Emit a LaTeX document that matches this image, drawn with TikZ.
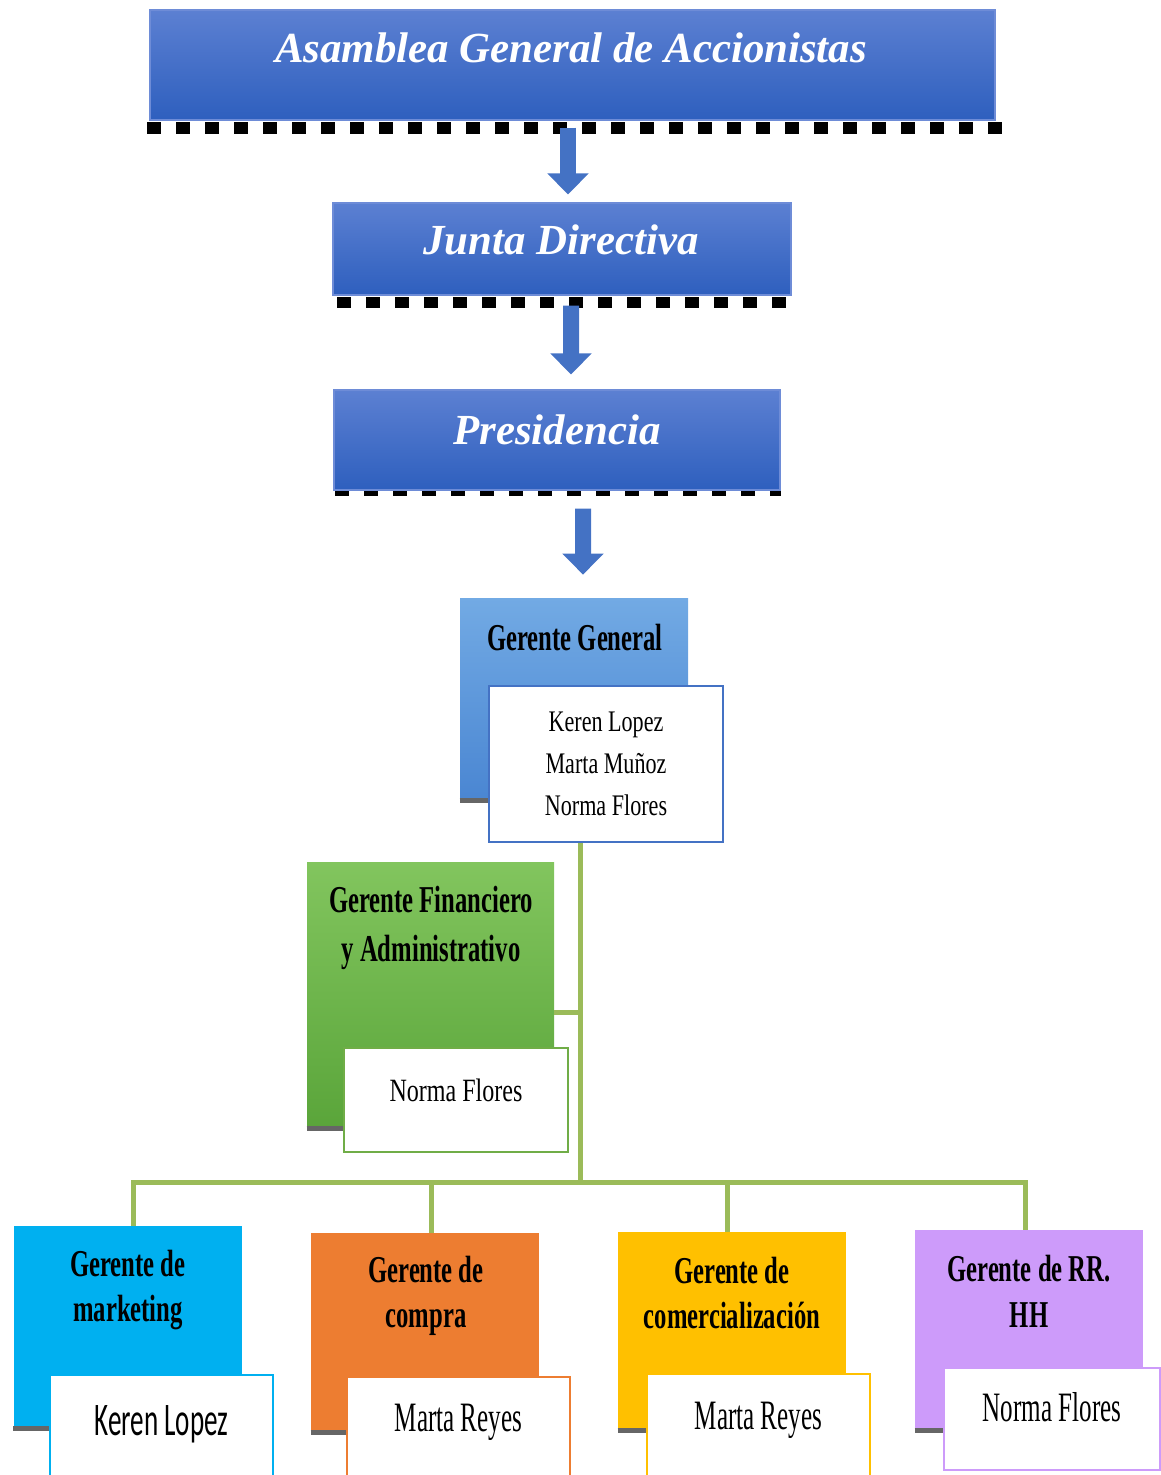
\documentclass[tikz,border=0pt]{standalone}
\usepackage{fontspec}
\setmainfont{Liberation Serif}
\newfontfamily\labelfont[FakeStretch=0.65]{Liberation Serif}
\newfontfamily\namefont[FakeStretch=0.74]{Liberation Serif}
\newfontfamily\narrowfont[FakeStretch=0.6]{Liberation Serif}
\newfontfamily\narrowsans[FakeStretch=0.58]{Carlito}
\usepackage{xcolor}
\usetikzlibrary{arrows.meta,positioning,calc}
\definecolor{boardtop}{RGB}{92,128,210}
\definecolor{boardbottom}{RGB}{46,95,190}
\definecolor{boardedge}{RGB}{110,140,215}
\definecolor{boardblue}{RGB}{68,114,196}
\definecolor{ggtop}{RGB}{114,170,228}
\definecolor{ggbottom}{RGB}{74,134,210}
\definecolor{fintop}{RGB}{130,197,94}
\definecolor{finbottom}{RGB}{90,165,58}
\definecolor{finedge}{RGB}{112,173,71}
\definecolor{linkgreen}{RGB}{155,187,89}
\definecolor{mktcyan}{RGB}{0,176,240}
\definecolor{comporange}{RGB}{237,125,49}
\definecolor{comeryellow}{RGB}{255,192,0}
\definecolor{rrhhviolet}{RGB}{205,155,250}

\begin{document}
\begin{tikzpicture}[
    board/.style={draw=boardedge, line width=0.6pt, top color=boardtop, bottom color=boardbottom, inner sep=0pt},
    boardtext/.style={text=white, font=\bfseries\itshape\fontsize{24.4}{28}\selectfont},
    serrate/.style={black, line width=#1, dash pattern=on 0.28cm off 0.3cm},
    downarrow/.style={draw=boardblue, line width=0.32cm, -{Triangle[width=0.8cm,length=0.42cm]}},
    mgr/.style={inner sep=0pt, minimum width=4.56cm},
    mgrtext/.style={align=center, font=\labelfont\bfseries\fontsize{21.6}{26}\selectfont},
    namebox/.style={fill=white, line width=1.2pt, inner sep=0pt, align=center, minimum width=4.46cm},
    names/.style={font=\narrowfont\fontsize{23.8}{28}\selectfont},
    link/.style={draw=linkgreen, line width=0.1cm},
    ledge/.style={draw=black!60, line width=0.1cm}
]
\useasboundingbox (0,0) rectangle (23.22,-29.5);

% top of the organisation
\node[board, minimum width=16.9cm, minimum height=2.2cm] (asam) at (11.45,-1.3) {};
\node[boardtext] (asamtxt) at (11.42,-0.96) {Asamblea General de Accionistas};
\draw[serrate=0.24cm] ($(asam.south west)+(-0.04,-0.14)$) -- ($(asam.south east)+(0.2,-0.14)$);

\node[board, minimum width=9.16cm, minimum height=1.84cm] (junta) at (11.24,-4.98) {};
\node[boardtext] (juntatxt) at (11.22,-4.8) {Junta Directiva};
\draw[serrate=0.22cm] ($(junta.south west)+(0.1,-0.14)$) -- ($(junta.south east)+(-0.02,-0.14)$);

\node[board, minimum width=8.92cm, minimum height=2cm] (pres) at (11.14,-8.8) {};
\node[boardtext] (prestxt) at (11.14,-8.6) {Presidencia};
\draw[serrate=0.1cm] ($(pres.south west)+(0.04,-0.06)$) -- ($(pres.south east)+(0,-0.06)$);

\node[mgr, top color=ggtop, bottom color=ggbottom, minimum height=4.04cm] (gg) at (11.48,-13.98) {};
\node[mgrtext] (ggtxt) at (11.5,-12.76) {Gerente General};

\draw[downarrow] ($(asam.south)+(-0.09,-0.14)$) -- ($(junta.north)+(0.12,0.16)$);
\draw[downarrow] ($(junta.south)+(0.18,-0.2)$) -- ($(pres.north)+(0.28,0.3)$);
\draw[downarrow] ($(pres.south)+(0.52,-0.36)$) -- ($(gg.north)+(0.18,0.46)$);

% green tree
\coordinate (hub) at (11.6,-23.64);

\node[mgr, minimum width=4.94cm, top color=fintop, bottom color=finbottom, minimum height=5.32cm] (fin) at (8.61,-19.9) {};
\node[mgrtext, font=\labelfont\bfseries\fontsize{21.6}{28.3}\selectfont] (fintxt) at (8.62,-18.56) {Gerente Financiero\\y Administrativo};

\node[mgr, fill=mktcyan, minimum height=4.04cm] (mkt) at (2.55,-26.54) {};
\node[mgrtext] (mkttxt) at (2.56,-25.8) {Gerente de\\marketing};
\node[mgr, fill=comporange, minimum height=3.98cm] (comp) at (8.5,-26.65) {};
\node[mgrtext] (comptxt) at (8.52,-25.92) {Gerente de\\compra};
\node[mgr, fill=comeryellow, minimum height=3.96cm] (comer) at (14.64,-26.62) {};
\node[mgrtext] (comertxt) at (14.64,-25.86) {Gerente de\\comercialización};
\node[mgr, fill=rrhhviolet, minimum height=4cm] (rrhh) at (20.58,-26.6) {};
\node[mgrtext] (rrhhtxt) at (20.58,-25.82) {Gerente de RR.\\HH};

\coordinate (finlink) at ($(fin.east)+(0,-0.34)$);
\draw[link] (finlink) -- (finlink -| hub);
\draw[link] ($(mkt.north)+(0.11,0)$) -- ($(mkt.north |- hub)+(0.11,0)$) -- ($(rrhh.north |- hub)+(-0.08,0)$) -- ($(rrhh.north)+(-0.08,0)$);
\draw[link] ($(comp.north)+(0.12,0)$) -- ($(comp.north |- hub)+(0.12,0)$);
\draw[link] ($(comer.north)+(-0.1,0)$) -- ($(comer.north |- hub)+(-0.1,0)$);

% name cards
\node[namebox, draw=boardblue, minimum width=4.68cm, minimum height=3.12cm,
      font=\namefont\fontsize{17}{23.8}\selectfont] (ggn) at (12.12,-15.28) {Keren Lopez\\Marta Muñoz\\Norma Flores};
\node[namebox, draw=finedge, minimum width=4.48cm, minimum height=2.08cm, text depth=0.4cm,
      font=\namefont\fontsize{18.5}{20}\selectfont] (finn) at (9.12,-22) {Norma Flores};
\draw[link] (ggn.south -| hub) -- (hub);

\node[namebox, draw=mktcyan, minimum height=2.1cm, text depth=0.3cm,
      font=\narrowsans\fontsize{26.6}{30}\selectfont] (mktn) at (3.23,-28.55) {Keren Lopez};
\node[namebox, draw=comporange, minimum height=2.1cm, text depth=0.45cm, names] (compn) at (9.17,-28.59) {Marta Reyes};
\node[namebox, draw=comeryellow, minimum height=2.12cm, text depth=0.45cm, names] (comern) at (15.17,-28.54) {Marta Reyes};
\node[namebox, draw=rrhhviolet, minimum width=4.32cm, minimum height=2.04cm, text depth=0.48cm, names] (rrhhn) at (21.04,-28.38) {Norma Flores};

% grey edges under the coloured cards
\draw[ledge] (gg.south west) -- (gg.south west -| ggn.west);
\draw[ledge] (fin.south west) -- (fin.south west -| finn.west);
\foreach \b in {mkt,comp,comer,rrhh}
  \draw[ledge] (\b.south west) -- (\b.south west -| \b n.west);
\end{tikzpicture}
\end{document}
